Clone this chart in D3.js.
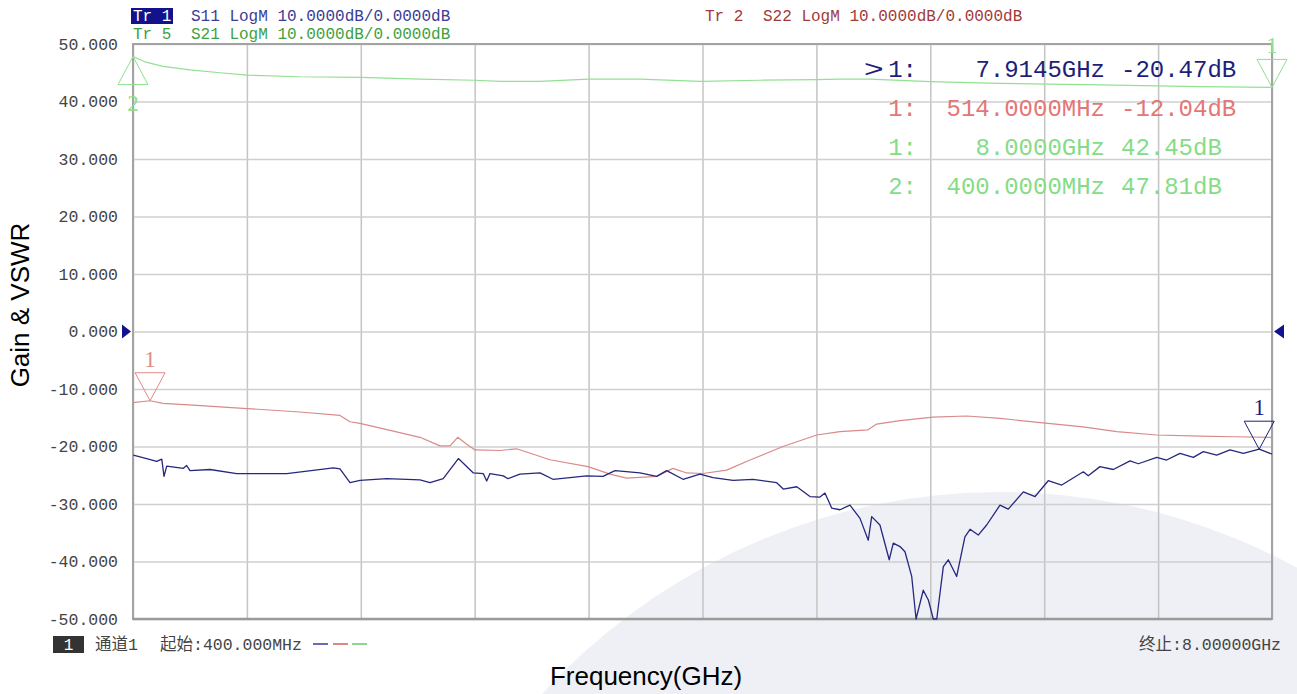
<!DOCTYPE html>
<html><head><meta charset="utf-8">
<script src="https://cdn.jsdelivr.net/npm/d3@7"></script>
<style>body{margin:0;background:#fff;overflow:hidden} text{white-space:pre}</style>
</head><body><svg id="c" width="1297" height="694"></svg>
<script>
// ---------- data ----------
const yTicks = [50, 40, 30, 20, 10, 0, -10, -20, -30, -40, -50];
const yTickLabels = ["50.000", "40.000", "30.000", "20.000", "10.000", "0.000", "-10.000", "-20.000", "-30.000", "-40.000", "-50.000"];
const xGrid = [0.4, 1.16, 1.92, 2.68, 3.44, 4.2, 4.96, 5.72, 6.48, 7.24, 8.0];

const s11Freq = [0.402, 0.491, 0.558, 0.592, 0.607, 0.625, 0.736, 0.758, 0.780, 0.914, 1.092, 1.426, 1.737, 1.781, 1.848, 1.915, 2.093, 2.315, 2.382, 2.470, 2.571, 2.671, 2.737, 2.760, 2.782, 2.871, 2.902, 2.982, 3.116, 3.202, 3.427, 3.536, 3.616, 3.783, 3.894, 3.961, 4.070, 4.183, 4.270, 4.404, 4.537, 4.695, 4.739, 4.829, 4.917, 4.984, 5.017, 5.062, 5.117, 5.184, 5.251, 5.306, 5.329, 5.384, 5.446, 5.473, 5.518, 5.551, 5.596, 5.625, 5.673, 5.707, 5.740, 5.763, 5.807, 5.840, 5.896, 5.951, 5.985, 6.040, 6.096, 6.185, 6.240, 6.341, 6.419, 6.507, 6.597, 6.741, 6.774, 6.852, 6.941, 7.053, 7.108, 7.231, 7.297, 7.386, 7.475, 7.542, 7.631, 7.720, 7.809, 7.9145, 7.987, 8.0];
const s11dB = [-21.5, -22.1, -22.6, -22.2, -25.2, -23.4, -23.8, -23.3, -24.2, -24.0, -24.7, -24.7, -23.7, -23.9, -26.3, -25.9, -25.6, -25.8, -26.3, -25.6, -22.1, -24.6, -24.7, -26.0, -24.7, -25.1, -25.6, -24.8, -24.6, -25.7, -25.1, -25.2, -24.2, -24.6, -25.2, -24.2, -25.7, -24.8, -25.4, -25.9, -25.7, -26.3, -27.4, -27.0, -28.7, -28.8, -28.1, -30.7, -31.0, -30.2, -32.5, -36.3, -32.2, -33.65, -39.7, -36.8, -37.4, -38.3, -42.6, -50.0, -45.0, -46.7, -50.0, -50.0, -40.9, -39.7, -42.6, -35.7, -34.4, -35.4, -33.65, -30.2, -30.9, -27.9, -28.7, -25.95, -26.7, -24.4, -25.1, -23.5, -24.0, -22.5, -23.0, -21.9, -22.35, -21.2, -21.9, -20.9, -21.5, -20.6, -21.2, -20.47, -21.2, -21.3];

const s22Freq = [0.4, 0.514, 0.6, 0.8, 1.161, 1.514, 1.781, 1.848, 1.915, 2.315, 2.448, 2.515, 2.567, 2.627, 2.682, 2.849, 2.960, 3.182, 3.436, 3.583, 3.694, 3.894, 4.003, 4.095, 4.203, 4.361, 4.517, 4.737, 4.962, 5.117, 5.304, 5.362, 5.518, 5.738, 5.963, 6.185, 6.472, 6.739, 6.964, 7.231, 7.520, 7.740, 8.0];
const s22dB = [-12.38, -12.04, -12.5, -12.8, -13.4, -14.0, -14.6, -15.7, -15.97, -18.4, -19.9, -19.9, -18.4, -19.6, -20.6, -20.7, -20.4, -22.3, -23.5, -24.8, -25.5, -25.2, -23.8, -24.6, -24.7, -24.1, -22.35, -20.0, -18.0, -17.4, -17.1, -16.1, -15.5, -14.9, -14.7, -15.1, -15.9, -16.6, -17.4, -18.0, -18.2, -18.3, -18.4];

const s21Freq = [0.4, 0.48, 0.6, 0.78, 0.98, 1.16, 1.514, 1.92, 2.315, 2.68, 2.849, 3.116, 3.44, 3.783, 4.183, 4.584, 4.96, 5.117, 5.318, 5.72, 6.185, 6.852, 7.520, 8.0];
const s21dB = [47.81, 46.9, 46.1, 45.5, 45.0, 44.6, 44.3, 44.2, 43.9, 43.7, 43.5, 43.5, 43.9, 43.9, 43.5, 43.7, 43.8, 43.9, 43.9, 43.45, 43.15, 42.9, 42.6, 42.45];

// markers
const markerTrace = ["S11", "S22", "S21", "S21"];
const markerId = ["1", "1", "1", "2"];
const markerFreq = [7.9145, 0.514, 8.0, 0.4];
const markerDB = [-20.47, -12.04, 42.45, 47.81];
const markerFreqText = ["7.9145GHz", "514.0000MHz", "8.0000GHz", "400.0000MHz"];
const markerValText = ["-20.47dB", "-12.04dB", "42.45dB", "47.81dB"];

const headerTr = ["Tr 1", "Tr 5", "Tr 2"];
const headerTexts = ["S11 LogM 10.0000dB/0.0000dB", "S21 LogM 10.0000dB/0.0000dB", "S22 LogM 10.0000dB/0.0000dB"];

// ---------- drawing ----------
const L = 133, R = 1272, T = 44, B = 619;
const mono = "'Liberation Mono','Noto Sans CJK SC',monospace";
const sans = "'Liberation Sans',Arial,sans-serif";
const col = {
  S11: {line: "#27277e", text: "#1e1e7a", head: "#3c3c94", mark: "#1e1e80", dash: "#3a3aa0"},
  S22: {line: "#d98a8a", text: "#e47676", head: "#a23a3a", mark: "#e08a8a", dash: "#d06060"},
  S21: {line: "#92e092", text: "#86dc86", head: "#3f9f3f", mark: "#8fdf8f", dash: "#6cc46c"}
};

const svg = d3.select("#c");
const x = d3.scaleLinear().domain([0.4, 8]).range([L, R]);
const y = d3.scaleLinear().domain([-50, 50]).range([B, T]);

// background watermark arc
svg.append("circle").attr("cx", 1000).attr("cy", 1112).attr("r", 620).attr("fill", "#eef0f5");

// grid via axes
const gx = svg.append("g").attr("transform", `translate(0,${B})`)
  .call(d3.axisBottom(x).tickValues(xGrid).tickSize(-(B - T)).tickFormat(""));
gx.select(".domain").remove();
gx.selectAll("line").attr("stroke", "#c4c4c4").attr("stroke-width", 1.5);

const gy = svg.append("g").attr("transform", `translate(${L},0)`)
  .call(d3.axisLeft(y).tickValues(yTicks).tickSize(-(R - L)).tickPadding(15)
    .tickFormat((d, i) => yTickLabels[i]));
gy.select(".domain").remove();
gy.selectAll("line").attr("stroke", "#cfcfcf").attr("stroke-width", 1.5);
gy.selectAll("text").attr("font-family", mono).attr("font-size", 16.5).attr("fill", "#444");

// frame
svg.append("rect").attr("x", L).attr("y", T).attr("width", R - L).attr("height", B - T)
  .attr("fill", "none").attr("stroke", "#a3a3a3").attr("stroke-width", 2);
svg.append("line").attr("x1", L).attr("x2", R).attr("y1", B).attr("y2", B)
  .attr("stroke", "#9a9a9a").attr("stroke-width", 2.5);

// traces
svg.append("clipPath").attr("id", "clip").append("rect")
  .attr("x", L).attr("y", T - 1).attr("width", R - L).attr("height", B - T + 2);
const line = d3.line().x(d => x(d[0])).y(d => y(d[1]));
const traces = [
  ["S21", s21Freq, s21dB, 1.2],
  ["S22", s22Freq, s22dB, 1.2],
  ["S11", s11Freq, s11dB, 1.3]
];
traces.forEach(([k, f, v, w]) => {
  svg.append("path").datum(f.map((d, i) => [d, v[i]]))
    .attr("clip-path", "url(#clip)")
    .attr("d", line).attr("fill", "none").attr("stroke", col[k].line)
    .attr("stroke-width", w).attr("stroke-linejoin", "round");
});

// reference level triangles at 0 dB
const y0 = y(0);
svg.append("path").attr("d", `M${L - 11},${y0 - 7}L${L - 2},${y0}L${L - 11},${y0 + 7}Z`).attr("fill", "#12128c");
svg.append("path").attr("d", `M${R + 12},${y0 - 7}L${R + 2},${y0}L${R + 12},${y0 + 7}Z`).attr("fill", "#12128c");

// marker triangles on traces
markerTrace.forEach((k, i) => {
  const px = x(markerFreq[i]), py = y(markerDB[i]);
  const up = (k === "S21" && markerId[i] === "2");
  const hw = 15, h = 28, c = col[k].mark;
  const by = up ? py + h : py - h;
  svg.append("path").attr("d", `M${px - hw},${by}L${px + hw},${by}L${px},${py}Z`)
    .attr("fill", "none").attr("stroke", c).attr("stroke-width", 1);
  svg.append("text").attr("x", px).attr("y", up ? by + 26 : by - 6).attr("text-anchor", "middle")
    .attr("font-family", "'Liberation Serif',serif").attr("font-size", 23).attr("fill", c).text(markerId[i]);
});

// marker readout
markerTrace.forEach((k, i) => {
  const by = 77 + i * 39;
  const g = svg.append("g").attr("font-family", mono).attr("font-size", 24).attr("fill", col[k].text);
  if (i === 0) g.append("text").attr("x", 884).attr("y", by).attr("text-anchor", "end")
    .attr("transform", `translate(884,${by}) scale(1.4,1) translate(-884,${-by})`).text(">");
  g.append("text").attr("x", 917).attr("y", by).attr("text-anchor", "end").text(markerId[i] + ":");
  g.append("text").attr("x", 1105).attr("y", by).attr("text-anchor", "end").text(markerFreqText[i]);
  g.append("text").attr("x", 1121).attr("y", by).text(markerValText[i]);
});

// header
svg.append("rect").attr("x", 131).attr("y", 8).attr("width", 42).attr("height", 16).attr("fill", "#12128c");
svg.append("text").attr("x", 133).attr("y", 21).attr("font-family", mono).attr("font-size", 16)
  .attr("fill", "#fff").text(headerTr[0]);
svg.append("text").attr("x", 191).attr("y", 21).attr("font-family", mono).attr("font-size", 16)
  .attr("fill", col.S11.head).text(headerTexts[0]);
svg.append("text").attr("x", 133).attr("y", 39).attr("font-family", mono).attr("font-size", 16)
  .attr("fill", col.S21.head).text(headerTr[1]);
svg.append("text").attr("x", 191).attr("y", 39).attr("font-family", mono).attr("font-size", 16)
  .attr("fill", col.S21.head).text(headerTexts[1]);
svg.append("text").attr("x", 705).attr("y", 21).attr("font-family", mono).attr("font-size", 16)
  .attr("fill", col.S22.head).text(headerTr[2]);
svg.append("text").attr("x", 763).attr("y", 21).attr("font-family", mono).attr("font-size", 16)
  .attr("fill", col.S22.head).text(headerTexts[2]);

// footer
svg.append("rect").attr("x", 53).attr("y", 636).attr("width", 31).attr("height", 17).attr("fill", "#333");
svg.append("text").attr("x", 68.5).attr("y", 650).attr("text-anchor", "middle").attr("font-family", mono)
  .attr("font-size", 16).attr("fill", "#fff").text("1");
svg.append("text").attr("x", 95).attr("y", 650).attr("font-family", mono).attr("font-size", 16.5)
  .attr("fill", "#444").text("通道1");
svg.append("text").attr("x", 160).attr("y", 650).attr("font-family", mono).attr("font-size", 16.5)
  .attr("fill", "#444").text("起始:400.000MHz");
[["S11", 313], ["S22", 333], ["S21", 352]].forEach(([k, xs]) => {
  svg.append("line").attr("x1", xs).attr("x2", xs + 15).attr("y1", 644).attr("y2", 644)
    .attr("stroke", col[k].dash).attr("stroke-width", 1.5);
});
svg.append("text").attr("x", 1281).attr("y", 650).attr("text-anchor", "end").attr("font-family", mono)
  .attr("font-size", 16.5).attr("fill", "#444").text("终止:8.00000GHz");

// axis titles
svg.append("text").attr("transform", "translate(29,305) rotate(-90)").attr("text-anchor", "middle")
  .attr("font-family", sans).attr("font-size", 26).attr("fill", "#000").text("Gain & VSWR");
svg.append("text").attr("x", 646).attr("y", 685).attr("text-anchor", "middle")
  .attr("font-family", sans).attr("font-size", 26).attr("fill", "#000").text("Frequency(GHz)");
</script></body></html>
